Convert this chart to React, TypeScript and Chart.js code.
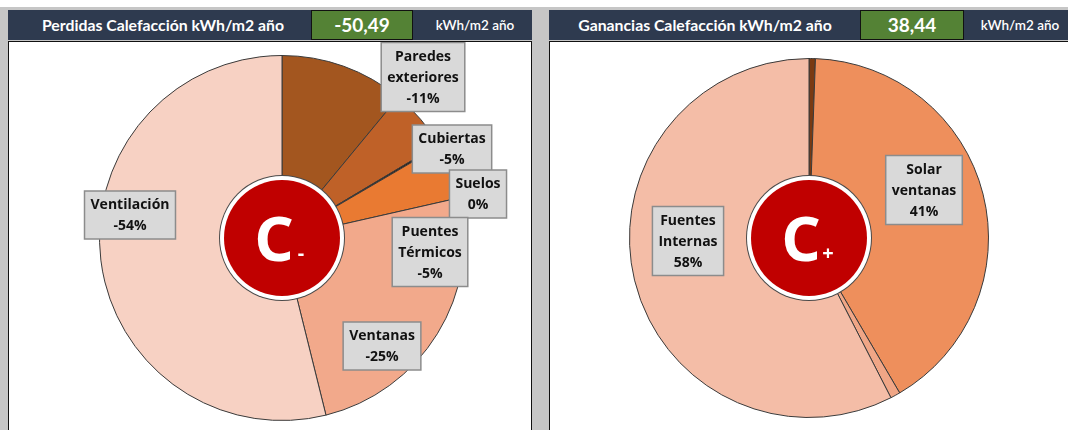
import React, { useEffect, useRef } from "react";
import { Chart, registerables } from "chart.js";
Chart.register(...registerables);

// ---------- data ----------
const lossCategories = ["Paredes exteriores", "Cubiertas", "Suelos", "Puentes Térmicos", "Ventanas", "Ventilación"];
const lossValues = [5.55, 2.75, 0.08, 2.45, 12.46, 27.2];
const lossLabelLines: (string[] | null)[] = [["Paredes", "exteriores"], ["Cubiertas"], ["Suelos"], ["Puentes", "Térmicos"], ["Ventanas"], ["Ventilación"]];
const lossTitle = "Perdidas Calefacción kWh/m2 año";
const lossTotal = "-50,49";
const lossGrade = "-";

const gainCategories = ["Solar opacos", "Solar ventanas", "Solar lucernarios", "Fuentes Internas"];
const gainValues = [0.22, 15.76, 0.34, 22.12];
const gainLabelLines: (string[] | null)[] = [null, ["Solar", "ventanas"], null, ["Fuentes", "Internas"]];
const gainTitle = "Ganancias Calefacción kWh/m2 año";
const gainTotal = "38,44";
const gainGrade = "+";

const unitLabel = "kWh/m2 año";

// ---------- styles ----------
const lossColors = ["#A3561F", "#BF6128", "#2A1405", "#E97A32", "#F2A98B", "#F7D1C3"];
const gainColors = ["#7A3A12", "#EE8F5C", "#F0A686", "#F4BDA7"];
// label box centre offsets from pie centre
const lossLabelOffsets = [[141, -161], [170, -89], [196, -44], [148, 14], [100, 108], [-152, -23]];
const gainLabelOffsets = [[0, 0], [115, -48], [0, 0], [-121, 3]];

const LABEL_FONT = 'bold 14px "Open Sans"';
const NAVY = "#2E3A4F";
const GREEN = "#548235";

function makeOverlay(lines: (string[] | null)[], offsets: number[][], sign: string, grade: string) {
  return {
    id: "overlay",
    afterDatasetsDraw(chart: any) {
      const ctx = chart.ctx as CanvasRenderingContext2D;
      const arc = chart.getDatasetMeta(0).data[0];
      const cx = arc.x, cy = arc.y;
      ctx.save();
      // centre badge
      ctx.beginPath();
      ctx.arc(cx, cy, 63, 0, Math.PI * 2);
      ctx.fillStyle = "#4a4a4a";
      ctx.fill();
      ctx.beginPath();
      ctx.arc(cx, cy, 62, 0, Math.PI * 2);
      ctx.fillStyle = "#ffffff";
      ctx.fill();
      ctx.beginPath();
      ctx.arc(cx, cy, 58, 0, Math.PI * 2);
      ctx.fillStyle = "#C00000";
      ctx.fill();
      ctx.fillStyle = "#ffffff";
      ctx.textAlign = "center";
      ctx.textBaseline = "alphabetic";
      ctx.font = 'bold 61px "Noto Sans"';
      ctx.fillText("C", cx - 8, cy + 23);
      ctx.font = 'bold 20px "Noto Sans"';
      ctx.fillText(grade, cx + 19, cy + 22);

      // labels
      const data: number[] = chart.data.datasets[0].data;
      const total = data.reduce((a, b) => a + b, 0);
      ctx.font = LABEL_FONT;
      lines.forEach((ls, i) => {
        if (!ls) return;
        const pct = Math.round((data[i] / total) * 100);
        const txt = [...ls, pct === 0 ? "0%" : sign + pct + "%"];
        const w = Math.max(...txt.map((t) => ctx.measureText(t).width)) + 12;
        const lh = 21;
        const h = txt.length * lh + 6;
        const bx = cx + offsets[i][0] - w / 2;
        const by = cy + offsets[i][1] - h / 2;
        ctx.fillStyle = "#D9D9D9";
        ctx.fillRect(bx, by, w, h);
        ctx.strokeStyle = "#8C8C8C";
        ctx.lineWidth = 1.5;
        ctx.strokeRect(bx, by, w, h);
        ctx.fillStyle = "#111111";
        ctx.textAlign = "center";
        ctx.textBaseline = "middle";
        txt.forEach((t, k) => {
          ctx.fillText(t, bx + w / 2, by + 3 + lh * k + lh / 2 + 1);
        });
      });
      ctx.restore();
    },
  };
}

type PanelProps = {
  x: number;
  title: string;
  titleCenter: number;
  total: string;
  greenLeft: number;
  greenWidth: number;
  unitCenter: number;
  categories: string[];
  values: number[];
  colors: string[];
  lines: (string[] | null)[];
  offsets: number[][];
  sign: string;
  grade: string;
  padding: { left: number; right: number; top: number; bottom: number };
};

function Panel(p: PanelProps) {
  const ref = useRef<HTMLCanvasElement>(null);
  useEffect(() => {
    const chart = new Chart(ref.current!, {
      type: "pie",
      data: {
        labels: p.categories,
        datasets: [
          {
            data: p.values,
            backgroundColor: p.colors,
            borderColor: "#3a3a3a",
            borderWidth: 1,
          },
        ],
      },
      options: {
        responsive: false,
        animation: false,
        layout: { padding: p.padding },
        plugins: { legend: { display: false }, tooltip: { enabled: false } },
      },
      plugins: [makeOverlay(p.lines, p.offsets, p.sign, p.grade)],
    });
    return () => chart.destroy();
  }, []);
  const textBase: React.CSSProperties = {
    position: "absolute",
    top: 0,
    height: 30,
    lineHeight: "30px",
    color: "#fff",
    whiteSpace: "nowrap",
    transform: "translateX(-50%)",
    fontFamily: "Lato",
  };
  return (
    <>
      <div style={{ position: "absolute", left: p.x, top: 10, width: 524, height: 30, background: NAVY }}>
        <div style={{ ...textBase, left: p.titleCenter, fontWeight: 700, fontSize: 15.8 }}>{p.title}</div>
        <div
          style={{
            position: "absolute",
            left: p.greenLeft,
            top: 0,
            width: p.greenWidth,
            height: 30,
            background: GREEN,
            border: "1.5px solid #111",
            boxSizing: "border-box",
            color: "#fff",
            fontFamily: "Lato",
            fontWeight: 700,
            fontSize: 19,
            lineHeight: "27px",
            textAlign: "center",
          }}
        >
          {p.total}
        </div>
        <div style={{ ...textBase, left: p.unitCenter, fontSize: 13.5, fontWeight: 600 }}>{unitLabel}</div>
      </div>
      <div
        style={{
          position: "absolute",
          left: p.x,
          top: 41,
          width: 524,
          height: 400,
          background: "#fff",
          border: "1px solid #111",
          boxSizing: "border-box",
          overflow: "hidden",
        }}
      >
        <canvas ref={ref} width={522} height={388} style={{ display: "block", width: 522, height: 388 }} />
      </div>
    </>
  );
}

export default function App() {
  return (
    <div
      style={{
        position: "absolute",
        left: 0,
        top: 0,
        width: 1068,
        height: 430,
        background: "#C6C6C6",
        overflow: "hidden",
      }}
    >
      <div style={{ position: "absolute", left: 0, top: 0, width: 1068, height: 7, background: "#fff" }} />
      <Panel
        x={8}
        title={lossTitle}
        titleCenter={155}
        total={lossTotal}
        greenLeft={303}
        greenWidth={102}
        unitCenter={467}
        categories={lossCategories}
        values={lossValues}
        colors={lossColors}
        lines={lossLabelLines}
        offsets={lossLabelOffsets}
        sign="-"
        grade={lossGrade}
        padding={{ left: 90, right: 66, top: 13, bottom: 9 }}
      />
      <Panel
        x={549}
        title={gainTitle}
        titleCenter={156}
        total={gainTotal}
        greenLeft={311}
        greenWidth={104}
        unitCenter={471}
        categories={gainCategories}
        values={gainValues}
        colors={gainColors}
        lines={gainLabelLines}
        offsets={gainLabelOffsets}
        sign=""
        grade={gainGrade}
        padding={{ left: 79, right: 83, top: 16, bottom: 12 }}
      />
    </div>
  );
}
